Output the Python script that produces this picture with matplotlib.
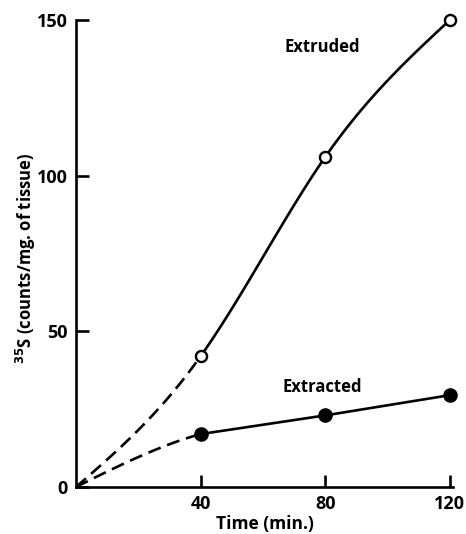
import numpy as np
import matplotlib
matplotlib.use("Agg")
import matplotlib.pyplot as plt

# data
time = [0, 40, 80, 120]
extruded = [0, 42, 106, 150]
extracted = [0, 17, 23, 29.5]
xticks = [40, 80, 120]
yticks = [0, 50, 100, 150]

plt.rcParams['font.family'] = ['Open Sans', 'DejaVu Sans']
plt.rcParams['font.weight'] = 'bold'


def spline(x, y, xs):
    # natural cubic spline, only used to draw the smooth hand-drawn curves
    x = np.asarray(x, float)
    y = np.asarray(y, float)
    n = len(x)
    h = np.diff(x)
    A = np.zeros((n, n))
    b = np.zeros(n)
    A[0, 0] = A[-1, -1] = 1
    for i in range(1, n - 1):
        A[i, i - 1] = h[i - 1]
        A[i, i] = 2 * (h[i - 1] + h[i])
        A[i, i + 1] = h[i]
        b[i] = 6 * ((y[i + 1] - y[i]) / h[i] - (y[i] - y[i - 1]) / h[i - 1])
    M = np.linalg.solve(A, b)
    out = np.empty_like(xs)
    for k, t in enumerate(xs):
        i = min(max(np.searchsorted(x, t, side='right') - 1, 0), n - 2)
        a, c = x[i], x[i + 1]
        out[k] = (M[i] * (c - t) ** 3 / (6 * h[i]) + M[i + 1] * (t - a) ** 3 / (6 * h[i])
                  + (y[i] / h[i] - M[i] * h[i] / 6) * (c - t)
                  + (y[i + 1] / h[i] - M[i + 1] * h[i] / 6) * (t - a))
    return out


fig = plt.figure(figsize=(4.66, 5.34), dpi=100)
ax = fig.add_axes([0.163, 0.088, 0.809, 0.8745])

lw = 1.9
xa = np.linspace(time[0], time[1], 60)
xb = np.linspace(time[1], time[-1], 120)

# extruded: smooth curve, dashed up to the first sample
ax.plot(xa, spline(time, extruded, xa), color='black', lw=lw, dashes=(5, 2.6))
ax.plot(xb, spline(time, extruded, xb), color='black', lw=lw)
ax.plot(time[1:], extruded[1:], 'o', ms=8, mfc='white', mec='black', mew=1.7,
        zorder=3, clip_on=False)

# extracted: dashed curve from origin, straight segments after
ax.plot(xa, spline(time, extracted, xa), color='black', lw=lw, dashes=(5, 2.6))
ax.plot(time[1:], extracted[1:], '-o', color='black', lw=lw, ms=9.5,
        zorder=3, clip_on=False)

ax.text(79, 141.3, 'Extruded', ha='center', va='center', fontsize=12, fontweight='bold')
ax.text(79, 32, 'Extracted', ha='center', va='center', fontsize=12, fontweight='bold')

ax.set_xlim(0, 121)
ax.set_ylim(0, 150)
ax.set_xticks(xticks)
ax.set_yticks(yticks)
ax.tick_params(direction='in', length=9, width=lw, labelsize=13, pad=6)
for lab in ax.get_xticklabels() + ax.get_yticklabels():
    lab.set_fontweight('bold')
ax.spines['top'].set_visible(False)
ax.spines['right'].set_visible(False)
ax.spines['left'].set_linewidth(lw)
ax.spines['bottom'].set_linewidth(lw)
ax.set_xlabel('Time (min.)', fontsize=12.5, fontweight='bold')
ax.set_ylabel('$^{35}$S (counts/mg. of tissue)', fontsize=12, fontweight='bold')
ax.xaxis.set_label_coords(0.5, -0.06)
ax.yaxis.set_label_coords(-0.101, 0.49)

fig.savefig('out.png', dpi=100)
